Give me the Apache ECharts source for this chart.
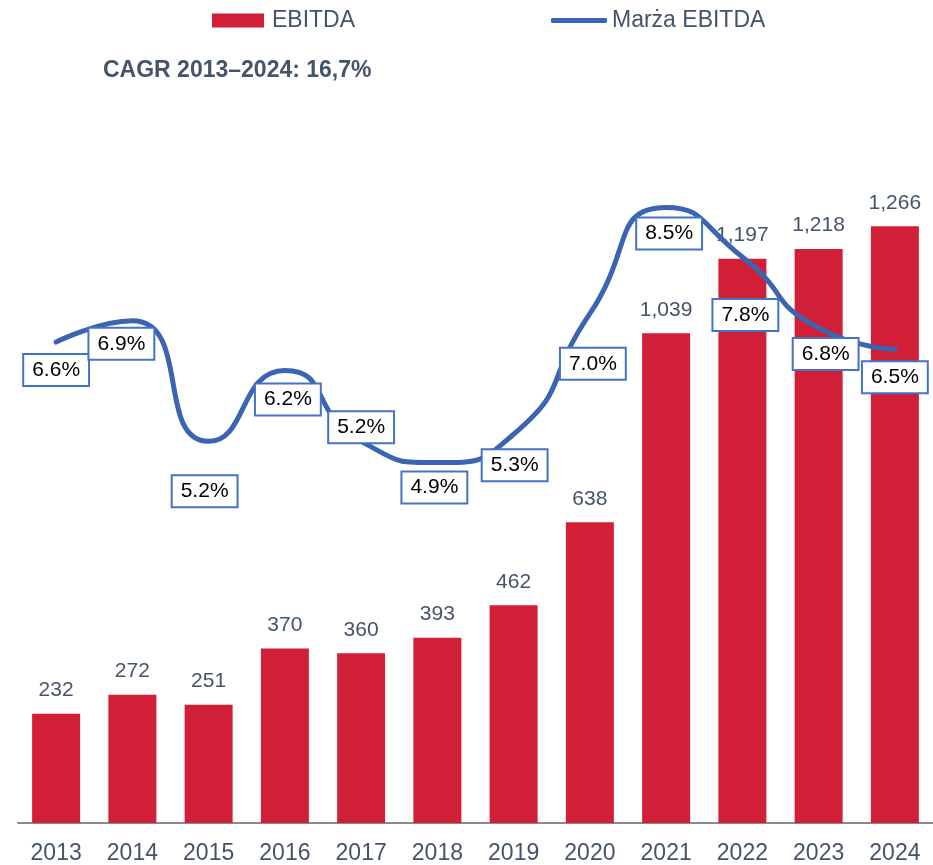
<!DOCTYPE html>
<html>
<head>
<meta charset="utf-8">
<script src="https://cdn.jsdelivr.net/npm/echarts@6/dist/echarts.min.js"></script>
<style>
  html, body { margin: 0; padding: 0; background: #fff; }
  #chart { width: 933px; height: 865px; }
</style>
</head>
<body>
<div id="chart"></div>
<script>
// 数据
const years = ['2013', '2014', '2015', '2016', '2017', '2018', '2019', '2020', '2021', '2022', '2023', '2024'];
const ebitda = [232, 272, 251, 370, 360, 393, 462, 638, 1039, 1197, 1218, 1266];
const marza = [6.6, 6.9, 5.2, 6.2, 5.2, 4.9, 5.3, 7.0, 8.5, 7.8, 6.8, 6.5];
const cagrText = 'CAGR 2013–2024: 16,7%';

// label offsets for the margin boxes (px, relative to the point)
const marzaLabelOffsets = [
  [0, 28], [-11, 23], [-4, 50], [3, 29], [0, -14], [-3, 25],
  [1, 31], [3, 50], [3, 26], [3, 58], [7, 26], [0, 28],
];

const textColor = '#44546A';
const barColor = '#D11F37';
const lineColor = '#3B64B1';
const font = 'Liberation Sans, Arial, sans-serif';

const chart = echarts.init(document.getElementById('chart'), null, { renderer: 'canvas' });

const option = {
  animation: false,
  textStyle: { fontFamily: font },
  title: {
    text: cagrText,
    left: 98,
    top: 54,
    textStyle: { fontFamily: font, fontSize: 23, fontWeight: 'bold', color: textColor },
  },
  legend: [
    {
      data: [{ name: 'EBITDA', icon: 'rect' }],
      left: 207,
      top: 4,
      itemWidth: 52,
      itemHeight: 14,
      itemGap: 0,
      textStyle: { fontFamily: font, fontSize: 23, color: textColor, padding: [0, 0, 0, 3] },
    },
    {
      data: [{ name: 'Marża EBITDA', icon: 'roundRect' }],
      left: 546,
      top: 4,
      itemWidth: 56,
      itemHeight: 5,
      itemGap: 0,
      itemStyle: { color: lineColor },
      textStyle: { fontFamily: font, fontSize: 23, color: textColor, padding: [0, 0, 0, 0] },
    },
  ],
  grid: { left: 18, right: -5, top: 124, bottom: 41, containLabel: false },
  xAxis: {
    type: 'category',
    data: years,
    axisLine: { show: true, lineStyle: { color: '#8A8A8A', width: 2 } },
    axisTick: { show: false },
    axisLabel: { interval: 0, color: textColor, fontSize: 23, fontFamily: font, margin: 19 },
  },
  yAxis: [
    { type: 'value', min: 0, max: 1483, show: false, splitLine: { show: false } },
    { type: 'value', min: -0.183, max: 9.676, show: false, splitLine: { show: false } },
  ],
  series: [
    {
      name: 'EBITDA',
      type: 'bar',
      data: ebitda,
      barWidth: 48,
      itemStyle: { color: barColor },
      label: {
        show: true,
        position: 'top',
        distance: 13,
        color: textColor,
        fontSize: 21,
        fontFamily: font,
        formatter: (p) => p.value.toLocaleString('en-US'),
      },
    },
    {
      name: 'Marża EBITDA',
      type: 'line',
      yAxisIndex: 1,
      smooth: 0.6,
      data: marza.map((v, i) => ({
        value: v,
        label: { offset: marzaLabelOffsets[i] },
      })),
      symbol: 'circle',
      symbolSize: 2,
      showSymbol: true,
      itemStyle: { color: lineColor },
      lineStyle: { color: lineColor, width: 5, cap: 'round' },
      z: 5,
      label: {
        show: true,
        position: 'inside',
        formatter: (p) => p.value.toFixed(1) + '%',
        color: '#000',
        fontSize: 21,
        fontFamily: font,
        lineHeight: 22,
        backgroundColor: '#fff',
        borderColor: '#4472C4',
        borderWidth: 2,
        padding: [4, 8],
      },
    },
  ],
};

chart.setOption(option);
</script>
</body>
</html>
